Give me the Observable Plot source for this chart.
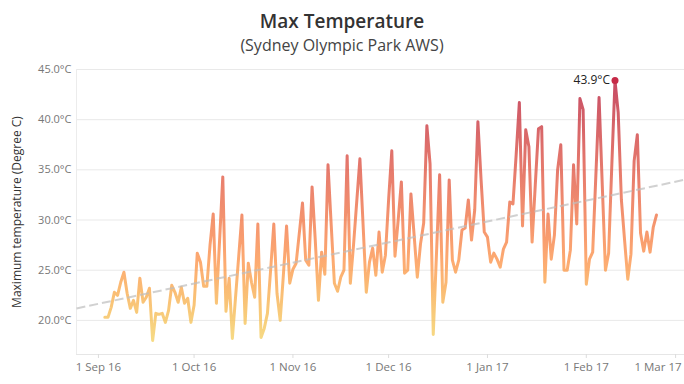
<!DOCTYPE html>
<html>
<head>
<meta charset="utf-8">
<script src="https://cdn.jsdelivr.net/npm/d3@7"></script>
<script src="https://cdn.jsdelivr.net/npm/@observablehq/plot@0.6"></script>
<style>
  html, body { margin: 0; padding: 0; background: #fff; }
  #wrap { width: 684px; height: 384px; position: relative; font-family: "Open Sans", sans-serif; }
  #head { position: relative; height: 62px; width: 684px; }
  #title { position: absolute; top: 7px; width: 100%; text-align: center; font-size: 19px; font-weight: 600; color: #333; line-height: 28px; }
  #subtitle { position: absolute; top: 34px; width: 100%; text-align: center; font-size: 16px; color: #444; line-height: 22px; }
</style>
</head>
<body>
<div id="wrap">
  <div id="head">
    <div id="title">Max Temperature</div>
    <div id="subtitle">(Sydney Olympic Park AWS)</div>
  </div>
  <div id="chart"></div>
</div>
<script>
// ---- data ----
const startDate = "2016-09-03"; // first observation, one value per day
const maxTemps = [
  20.3, 20.3, 21.3, 22.8, 22.5, 23.8, 24.8, 22.7, 21.2, 22.0,
  20.8, 24.2, 21.8, 22.3, 23.2, 18.0, 20.7, 20.6, 20.7, 19.8,
  21.0, 23.5, 22.8, 21.8, 23.3, 21.7, 22.2, 19.8, 21.5, 26.7,
  25.8, 23.4, 23.4, 27.5, 30.6, 21.7, 28.0, 34.3, 20.9, 24.2,
  18.2, 22.3, 26.4, 30.5, 19.7, 25.7, 23.8, 22.3, 29.6, 18.3,
  19.2, 20.7, 25.0, 29.6, 22.7, 20.0, 24.5, 29.4, 23.7, 25.1,
  25.7, 28.7, 31.7, 26.0, 25.5, 33.3, 28.0, 22.0, 26.8, 24.6,
  35.5, 29.5, 23.7, 22.9, 24.3, 25.0, 36.4, 23.7, 27.5, 31.8,
  36.1, 29.5, 22.8, 25.8, 27.2, 24.5, 28.8, 24.8, 26.5, 32.0,
  36.9, 26.4, 30.0, 33.8, 24.7, 25.0, 32.6, 28.5, 24.3, 27.6,
  29.7, 39.4, 35.6, 18.6, 26.5, 34.5, 21.8, 23.8, 34.0, 26.0,
  24.8, 26.0, 29.0, 29.2, 32.0, 28.0, 31.0, 39.8, 34.0, 28.8,
  28.3, 25.8, 26.7, 26.1, 25.3, 27.1, 27.8, 31.8, 31.6, 36.5,
  41.7, 29.4, 39.0, 37.3, 27.8, 33.5, 39.1, 39.3, 23.8, 30.6,
  26.1, 28.5, 35.0, 37.5, 25.0, 25.0, 27.0, 35.5, 29.6, 42.1,
  41.0, 23.6, 26.1, 26.8, 34.5, 42.2, 33.5, 25.0, 26.7, 35.5,
  43.9, 40.7, 32.0, 28.0, 24.1, 26.6, 35.9, 38.5, 28.7, 26.9,
  28.8, 26.8, 29.3, 30.5
];
const tickDates = ["2016-09-01", "2016-10-01", "2016-11-01", "2016-12-01", "2017-01-01", "2017-02-01", "2017-03-01"];
const yTicks = [20, 25, 30, 35, 40, 45];
const goldRed = ["#f4d166", "#f6be59", "#f9aa51", "#fc964e", "#f6834b", "#ee734a", "#e56249", "#db5247", "#cf4244", "#c43141", "#b71d3e"];

// ---- build table ----
const DAY = 864e5;
const t0 = new Date(startDate + "T00:00:00Z").getTime();
const rows = maxTemps.map((v, i) => ({date: new Date(t0 + i * DAY), temp: v, i}));
const ticks = tickDates.map(s => new Date(s + "T00:00:00Z"));
const fmt = d3.utcFormat("%-d %b %y");
const xDomain = [new Date(Date.UTC(2016, 7, 25, 3)), new Date(Date.UTC(2017, 2, 3, 19))];
const yDomain = [16.6, 45];

// linear regression (trend line) over day index
const mx = d3.mean(rows, d => d.i), my = d3.mean(rows, d => d.temp);
const slope = d3.sum(rows, d => (d.i - mx) * (d.temp - my)) / d3.sum(rows, d => (d.i - mx) ** 2);
const icpt = my - slope * mx;
const trendAt = t => icpt + slope * ((t.getTime() - t0) / DAY);
const trend = [{x1: xDomain[0], y1: trendAt(xDomain[0]), x2: xDomain[1], y2: trendAt(xDomain[1])}];

const maxRow = rows.reduce((a, b) => (b.temp > a.temp ? b : a));

const plot = Plot.plot({
  width: 684,
  height: 322,
  marginTop: 7,
  marginBottom: 30,
  marginLeft: 76,
  marginRight: 0,
  style: {fontFamily: "Open Sans, sans-serif", fontSize: "11px", color: "#777", background: "#fff"},
  x: {type: "utc", domain: xDomain},
  y: {domain: yDomain},
  marks: [
    Plot.gridY(yTicks, {stroke: "#e9e9e9", strokeOpacity: 1}),
    Plot.ruleY([yDomain[0]], {stroke: "#e6e6e6"}),
    Plot.ruleX([xDomain[0]], {stroke: "#ececec"}),
    Plot.axisY({ticks: yTicks, tickSize: 0, tickPadding: 5, tickFormat: d => d.toFixed(1) + "°C", label: null, fill: "#777", fontSize: 11}),
    Plot.axisX({ticks: ticks, tickSize: 4, tickFormat: () => "", label: null, stroke: "#dcdcdc"}),
    Plot.text(ticks.slice(0, -1), {x: d => d, text: d => fmt(d), frameAnchor: "bottom", dy: 16, fill: "#777", fontSize: 11.5}),
    Plot.text(ticks.slice(-1), {x: d => d, text: d => fmt(d), frameAnchor: "bottom", dy: 16, dx: 6, textAnchor: "end", fill: "#777", fontSize: 11.5}),
    Plot.text(["Maximum temperature (Degree C)"], {text: d => d, frameAnchor: "left", textAnchor: "middle", lineAnchor: "middle", rotate: -90, dx: -59, fill: "#333", fontSize: 12}),
    Plot.line(rows, {x: "date", y: "temp", stroke: "#f5a060", strokeOpacity: 0.8, strokeWidth: 3, strokeLinejoin: "round", strokeLinecap: "round"}),
    Plot.link(trend, {x1: "x1", y1: "y1", x2: "x2", y2: "y2", stroke: "#bdbdbd", strokeOpacity: 0.7, strokeWidth: 2, strokeDasharray: "9,4"}),
    Plot.dot([maxRow], {x: "date", y: "temp", r: 3.5, fill: "#c62a47", stroke: "none"}),
    Plot.text([maxRow], {x: "date", y: "temp", text: d => d.temp.toFixed(1) + "°C", textAnchor: "end", dx: -5, fill: "#222", fontSize: 12})
  ]
});

// vertical colour gradient mapped through the y scale (colour by temperature)
const yScale = plot.scale("y");
const svgSel = d3.select(plot);
const defs = svgSel.insert("defs", ":first-child");
const grad = defs.append("linearGradient")
  .attr("id", "tempGrad")
  .attr("gradientUnits", "userSpaceOnUse")
  .attr("x1", 0).attr("x2", 0)
  .attr("y1", yScale.apply(d3.min(maxTemps)))
  .attr("y2", yScale.apply(d3.max(maxTemps)));
goldRed.forEach((c, k) => grad.append("stop").attr("offset", k / (goldRed.length - 1)).attr("stop-color", c));
svgSel.selectAll('g[aria-label="line"], g[aria-label="line"] path').attr("stroke", "url(#tempGrad)");

document.getElementById("chart").appendChild(plot);
</script>
</body>
</html>
